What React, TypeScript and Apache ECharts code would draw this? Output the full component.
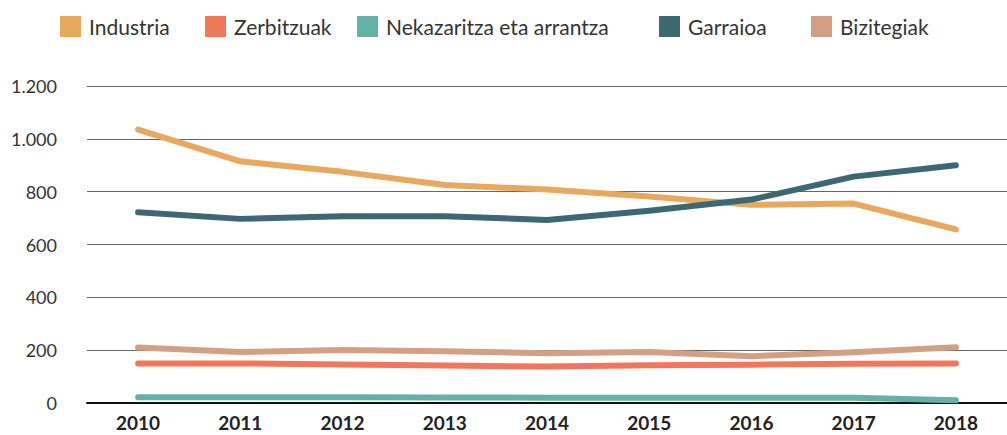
import React, { useEffect, useRef } from "react";
import * as echarts from "echarts";

const years = ["2010", "2011", "2012", "2013", "2014", "2015", "2016", "2017", "2018"];
const industria = [1035, 915, 875, 825, 808, 782, 750, 755, 657];
const zerbitzuak = [150, 150, 146, 142, 138, 143, 145, 149, 150];
const nekazaritza = [22, 22, 22, 21, 20, 20, 20, 20, 10];
const garraioa = [722, 697, 707, 707, 693, 728, 770, 857, 900];
const bizitegiak = [210, 193, 201, 196, 188, 193, 177, 192, 211];

const names = ["Industria", "Zerbitzuak", "Nekazaritza eta arrantza", "Garraioa", "Bizitegiak"];
const colors = ["#E8A85E", "#F2765A", "#66B1A6", "#3C6871", "#D4A085"];
const dataSets = [industria, zerbitzuak, nekazaritza, garraioa, bizitegiak];
const legendLefts = [60, 205, 357, 659, 811];

export default function App() {
  const ref = useRef<HTMLDivElement>(null);
  useEffect(() => {
    document.body.style.margin = "0";
    const chart = echarts.init(ref.current!, null, { renderer: "svg" });
    const font = "Lato, 'Noto Sans', sans-serif";
    chart.setOption({
      animation: false,
      textStyle: { fontFamily: font },
      legend: names.map((n, i) => ({
        top: 16,
        left: legendLefts[i],
        padding: 0,
        icon: "rect",
        itemWidth: 21,
        itemHeight: 21,
        textStyle: { fontSize: 21, color: "#333", fontFamily: font, padding: [0, 0, 0, 3] },
        data: [n],
      })),
      grid: { left: 87, right: -13, top: 86, bottom: 32 },
      xAxis: {
        type: "category",
        data: years,
        boundaryGap: true,
        axisLine: { lineStyle: { color: "#111", width: 2 } },
        axisTick: { show: false },
        axisLabel: { fontSize: 19, lineHeight: 19, fontWeight: "bold", color: "#222", margin: 10, fontFamily: font },
      },
      yAxis: {
        type: "value",
        min: 0,
        max: 1200,
        interval: 200,
        axisLine: { show: false },
        axisTick: { show: false },
        splitLine: { lineStyle: { color: "#666", width: 1 } },
        axisLabel: {
          fontSize: 18,
          color: "#333",
          margin: 30,
          fontFamily: font,
          formatter: (v: number) => (v >= 1000 ? String(v).replace(/(\d)(\d{3})$/, "$1.$2") : String(v)),
        },
      },
      series: names.map((n, i) => ({
        name: n,
        type: "line",
        data: dataSets[i],
        showSymbol: false,
        symbol: "none",
        color: colors[i],
        lineStyle: { width: 6, color: colors[i], cap: "round", join: "round" },
      })),
    });
    return () => chart.dispose();
  }, []);
  return <div ref={ref} style={{ width: 1007, height: 435 }} />;
}
